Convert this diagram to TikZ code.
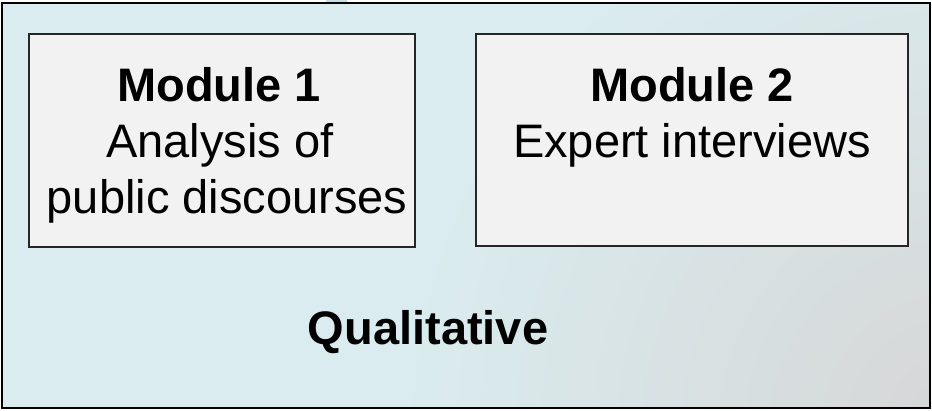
\documentclass[tikz,border=0pt]{standalone}
\usepackage{fontspec}
\setmainfont{Liberation Sans}
\begin{document}
\begin{tikzpicture}[x=1pt,y=-1pt,
  modbox/.style={draw=black!85,line width=1.5pt,fill=boxfill,inner sep=0pt},
  modtext/.style={anchor=base,inner sep=0pt,font=\fontsize{47}{56}\selectfont},
  modtitle/.style={modtext,font=\fontsize{47}{56}\selectfont\bfseries}]
\definecolor{bgblue}{HTML}{DAECEF}
\definecolor{bggray}{HTML}{D6D6D6}
\definecolor{boxfill}{HTML}{F2F2F2}
\definecolor{blob}{HTML}{BEE0E6}
\useasboundingbox (0,0) rectangle (932,411);
% outer panel
\begin{scope}
  \clip (2,3) rectangle (930,408);
  \fill[bgblue] (2,3) rectangle (930,408);
  \shade[inner color=bggray,outer color=bgblue] (960,430) circle[radius=560];
\end{scope}
\fill[blob] (326,0) rectangle (347,2);
\draw[line width=2.2pt,black] (2,3) rectangle (930,408);
% module boxes
\node[modbox,minimum width=386pt,minimum height=213pt] (m1) at (222,140.5) {};
\node[modbox,minimum width=432pt,minimum height=212pt] (m2) at (692,140) {};
% texts
\node[modtitle] (m1t) at (219,102) {Module 1};
\node[modtext] (m1a) at (220,158) {Analysis of};
\node[modtext] (m1b) at (227,214) {public discourses};
\node[modtitle] (m2t) at (692,102) {Module 2};
\node[modtext] (m2a) at (692,158) {Expert interviews};
\node[modtitle] (q) at (428,345) {Qualitative};
\end{tikzpicture}
\end{document}
